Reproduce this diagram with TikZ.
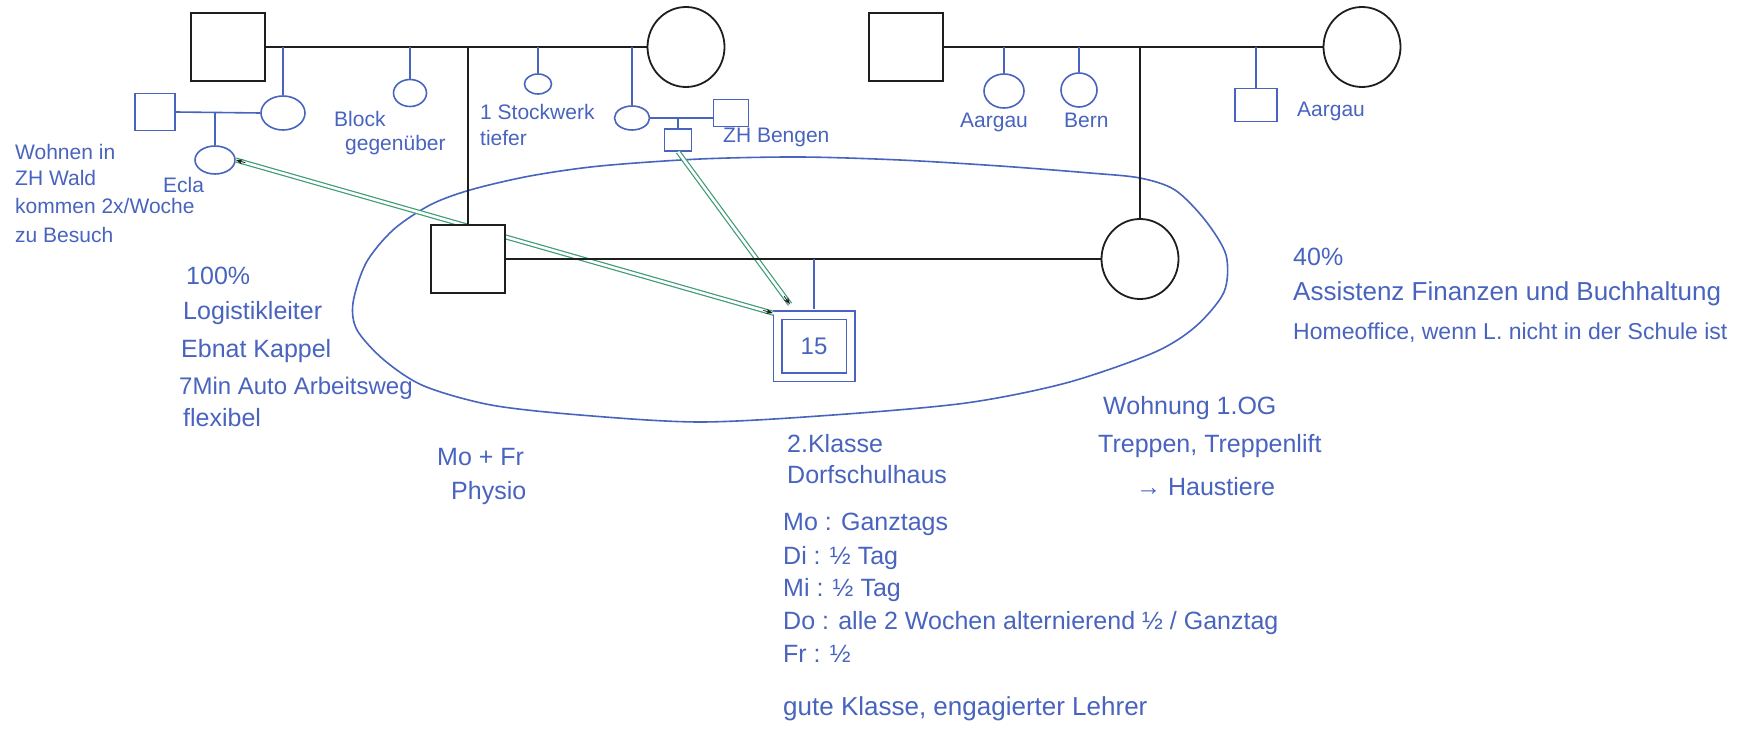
\documentclass[tikz,border=0pt]{standalone}
\usepackage{fontspec}
\setmainfont{Liberation Sans}
\usetikzlibrary{shapes.geometric,arrows.meta,calc}
\definecolor{ink}{RGB}{72,100,190}
\definecolor{grn}{RGB}{60,155,115}
\definecolor{pen}{RGB}{30,30,30}
\begin{document}
\begin{tikzpicture}[x=1pt,y=-1pt,
  male/.style={draw=pen, line width=1.8pt, fill=white, rectangle, minimum width=74pt, minimum height=68pt, inner sep=0pt},
  female/.style={draw=pen, line width=1.8pt, fill=white, ellipse, minimum width=77pt, minimum height=80pt, inner sep=0pt},
  bm/.style={draw=ink, line width=1.6pt, fill=white, rectangle, inner sep=0pt},
  bf/.style={draw=ink, line width=1.6pt, fill=white, ellipse, inner sep=0pt},
  bl/.style={draw=pen, line width=1.8pt},
  il/.style={draw=ink, line width=1.6pt},
  childbox/.style={draw=ink, line width=1.5pt, double=white, double distance=7pt, fill=white, rectangle, minimum width=73pt, minimum height=62pt, inner sep=0pt, text=ink, font=\fontsize{24}{26}\selectfont},
  txt/.style={anchor=mid west, inner sep=0pt, text=ink, font=\fontsize{25}{30}\selectfont},
  stxt/.style={anchor=mid west, inner sep=0pt, text=ink, font=\fontsize{21}{24}\selectfont},
  dbl/.style={draw=grn, line width=1.2pt, double=white, double distance=2.6pt},
  tip/.style={-{Stealth[length=7pt,width=5pt]}, draw=pen, line width=0.8pt}
]
\fill[white] (0,0) rectangle (1744,741);
\useasboundingbox (0,0) rectangle (1744,741);

% household ellipse
\draw[il] plot[smooth cycle] coordinates {(353,303) (366,263) (393,230) (430,205) (470,190) (530,176) (600,166) (700,159) (800,157) (900,160) (1000,166) (1090,173) (1140,178) (1175,190) (1205,220) (1226,255) (1224,292) (1195,327) (1153,353) (1066,383) (966,403) (833,415) (700,422) (580,415) (491,405) (424,386) (384,360) (357,330)};

% top generation
\node[male] (gf1) at (228,47) {};
\node[female] (gm1) at (686,47) {};
\node[male] (gf2) at (906,47) {};
\node[female] (gm2) at (1362,47) {};
\draw[bl] (gf1.east) -- (gm1.west);
\draw[bl] (gf2.east) -- (gm2.west);

% paternal relatives
\node[bf, minimum width=44pt, minimum height=34pt] (a1) at (283,113) {};
\node[bm, minimum width=40pt, minimum height=37pt] (u1) at (155,112) {};
\node[bf, minimum width=40pt, minimum height=28pt] (ecla) at (215,160) {};
\draw[il] (u1.east) -- (a1.west);
\draw[il] (ecla.north |- u1.east) -- (ecla.north);
\draw[il] (a1.north |- gf1.east) -- (a1.north);
\node[bf, minimum width=33pt, minimum height=27pt] (s2) at (410,93) {};
\draw[il] (s2.north |- gf1.east) -- (s2.north);
\node[bf, minimum width=27pt, minimum height=20pt] (s3) at (538,84) {};
\draw[il] (s3.north |- gf1.east) -- (s3.north);
\node[bf, minimum width=35pt, minimum height=24pt] (a2) at (632,118) {};
\draw[il] (a2.north |- gf1.east) -- (a2.north);
\node[bm, minimum width=35pt, minimum height=27pt] (u2) at (731,113) {};
\draw[il] (a2.east) -- (a2.east -| u2.west);
\node[bm, minimum width=27pt, minimum height=22pt] (c2) at (678,140) {};
\draw[il] (c2.north |- a2.east) -- (c2.north);

% maternal relatives
\node[bf, minimum width=40pt, minimum height=34pt] (s4) at (1004,91) {};
\draw[il] (s4.north |- gf2.east) -- (s4.north);
\node[bf, minimum width=36pt, minimum height=34pt] (s5) at (1079,90) {};
\draw[il] (s5.north |- gf2.east) -- (s5.north);
\node[bm, minimum width=42pt, minimum height=33pt] (s6) at (1256,105) {};
\draw[il] (s6.north |- gf2.east) -- (s6.north);

% child
\node[childbox] (ch) at (814,346) {15};
\coordinate (c2end) at ($(ch.north)+(-24,-10)$);

% green relations
\draw[dbl, shorten >=3pt] (ecla.east) -- (ch.north west);
\draw[tip] ($(ch.north west)!14pt!(ecla.east)$) -- ($(ch.north west)!4pt!(ecla.east)$);
\draw[tip] ($(ecla.east)!10pt!(ch.north west)$) -- (ecla.east);
\draw[dbl] (c2.south) -- (c2end);
\draw[tip] ($(c2end)!10pt!(c2.south)$) -- (c2end);

% parents
\node[male] (fa) at (468,259) {};
\node[female] (mo) at (1140,259) {};
\draw[bl] (fa.north |- gf1.east) -- (fa.north);
\draw[bl] (mo.north |- gf2.east) -- (mo.north);
\draw[bl] (fa.east) -- (mo.west);
\draw[il, shorten >=5pt] (ch.north |- fa.east) -- (ch.north);

% texts
\node[stxt] (w1) at (15,157) {Wohnen in};
\node[stxt] (w2) at (15,183) {ZH Wald};
\node[stxt] (w3) at (15,211) {kommen 2x/Woche};
\node[stxt] (w4) at (15,240) {zu Besuch};
\node[stxt] (en) at (163,190) {Ecla};
\node[stxt] (b1) at (334,124) {Block};
\node[stxt] (b2) at (345,148) {gegenüber};
\node[stxt] (k1) at (480,117) {1 Stockwerk};
\node[stxt] (k2) at (480,143) {tiefer};
\node[stxt] (zb) at (723,140) {ZH Bengen};
\node[stxt] (l1) at (960,125) {Aargau};
\node[stxt] (l2) at (1064,125) {Bern};
\node[stxt] (l3) at (1297,114) {Aargau};

\node[txt] (f1) at (186,282) {100\%};
\node[txt] (f2) at (183,317) {Logistikleiter};
\node[txt] (f3) at (181,355) {Ebnat Kappel};
\node[txt, font=\fontsize{24}{30}\selectfont] (f4) at (179,392) {7Min Auto Arbeitsweg};
\node[txt] (f5) at (183,424) {flexibel};
\node[txt] (p1) at (437,463) {Mo + Fr};
\node[txt] (p2) at (451,497) {Physio};

\node[txt] (m1) at (1293,263) {40\%};
\node[txt, font=\fontsize{26}{30}\selectfont] (m2) at (1293,298) {Assistenz Finanzen und Buchhaltung};
\node[txt, font=\fontsize{23}{28}\selectfont] (m3) at (1293,337) {Homeoffice, wenn L. nicht in der Schule ist};

\node[txt] (h1) at (1103,412) {Wohnung 1.OG};
\node[txt] (h2) at (1098,450) {Treppen, Treppenlift};
\node[txt] (h3) at (1136,493) {→ Haustiere};

\node[txt] (s1) at (787,450) {2.Klasse};
\node[txt] (sc) at (787,481) {Dorfschulhaus};
\node[txt] (d1) at (783,528) {Mo : Ganztags};
\node[txt] (d2) at (783,562) {Di : ½ Tag};
\node[txt] (d3) at (783,594) {Mi : ½ Tag};
\node[txt] (d4) at (783,627) {Do : alle 2 Wochen alternierend ½ / Ganztag};
\node[txt] (d5) at (783,660) {Fr : ½};
\node[txt, font=\fontsize{26}{30}\selectfont] (gk) at (783,713) {gute Klasse, engagierter Lehrer};
\end{tikzpicture}
\end{document}
